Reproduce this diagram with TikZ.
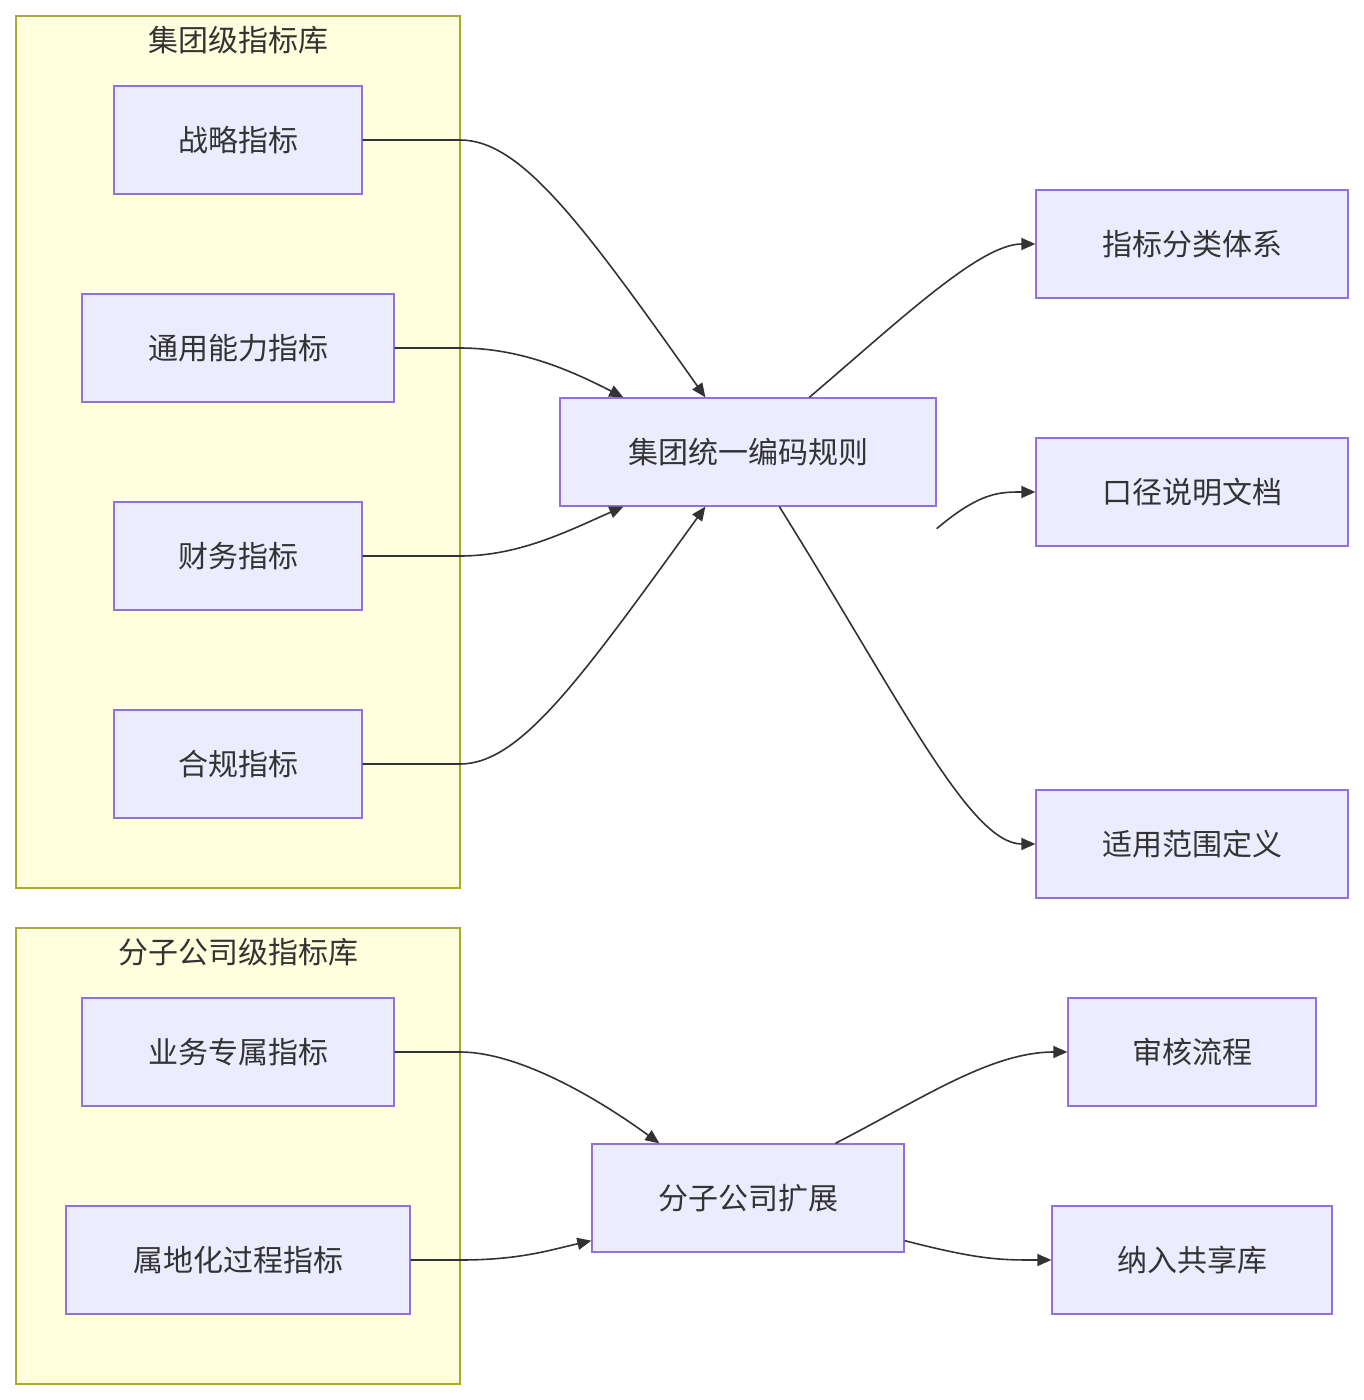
\documentclass[tikz,border=0pt]{standalone}
\usepackage{fontspec}
\setmainfont{Noto Sans CJK SC}
\usetikzlibrary{arrows.meta}
\definecolor{nfill}{HTML}{ECECFF}
\definecolor{nline}{HTML}{9370DB}
\definecolor{cfill}{HTML}{FFFFDE}
\definecolor{cline}{HTML}{AAAA33}
\definecolor{eline}{HTML}{333333}
\begin{document}
\begin{tikzpicture}[x=1pt,y=-1pt,
  box/.style={draw=nline,fill=nfill,line width=1.3pt,inner sep=0,minimum height=108pt,font=\fontsize{30}{36}\selectfont,text=eline},
  clus/.style={draw=cline,fill=cfill,line width=1.3pt},
  ttl/.style={font=\fontsize{30}{36}\selectfont,text=eline},
  edge/.style={draw=eline,line width=1.6pt,-{Triangle[length=14pt,width=12pt]}}]
\useasboundingbox (0,0) rectangle (1364,1400);
\draw[clus] (16,16) rectangle (460,888);
\draw[clus] (16,928) rectangle (460,1384);
\node[ttl] (t1) at (238,40) {集团级指标库};
\node[ttl] (t2) at (238,952) {分子公司级指标库};
\node[box,minimum width=248pt] (a1) at (238,140) {战略指标};
\node[box,minimum width=312pt] (a2) at (238,348) {通用能力指标};
\node[box,minimum width=248pt] (a3) at (238,556) {财务指标};
\node[box,minimum width=248pt] (a4) at (238,764) {合规指标};
\node[box,minimum width=376pt] (c) at (748,452) {集团统一编码规则};
\node[box,minimum width=312pt] (r1) at (1192,244) {指标分类体系};
\node[box,minimum width=312pt] (r2) at (1192,492) {口径说明文档};
\node[box,minimum width=312pt] (r3) at (1192,844) {适用范围定义};
\node[box,minimum width=312pt] (b1) at (238,1052) {业务专属指标};
\node[box,minimum width=344pt] (b2) at (238,1260) {属地化过程指标};
\node[box,minimum width=312pt] (d) at (748,1198) {分子公司扩展};
\node[box,minimum width=248pt] (s1) at (1192,1052) {审核流程};
\node[box,minimum width=280pt] (s2) at (1192,1260) {纳入共享库};
\draw[edge] (a1.east) -- (460,140) .. controls (520,140) and (580,220) .. ([xshift=146pt]c.north west);
\draw[edge] (a2.east) -- (460,348) .. controls (520,348) and (570,370) .. ([xshift=64pt]c.north west);
\draw[edge] (a3.east) -- (460,556) .. controls (520,556) and (570,530) .. ([xshift=64pt]c.south west);
\draw[edge] (a4.east) -- (460,764) .. controls (520,764) and (580,680) .. ([xshift=146pt]c.south west);
\draw[edge] ([xshift=250pt]c.north west) .. controls (900,320) and (980,244) .. (r1.west);
\draw[edge] ([yshift=-22pt]c.south east) .. controls (980,492) and (1000,492) .. (r2.west);
\draw[edge] ([xshift=220pt]c.south west) .. controls (900,700) and (970,844) .. (r3.west);
\draw[edge] (b1.east) -- (460,1052) .. controls (520,1052) and (600,1100) .. ([xshift=68pt]d.north west);
\draw[edge] (b2.east) -- (460,1260) .. controls (520,1260) and (550,1250) .. ([yshift=12pt]d.south west);
\draw[edge] ([xshift=244pt]d.north west) .. controls (920,1100) and (990,1052) .. (s1.west);
\draw[edge] ([yshift=12pt]d.south east) .. controls (980,1260) and (1000,1260) .. (s2.west);
\end{tikzpicture}
\end{document}
